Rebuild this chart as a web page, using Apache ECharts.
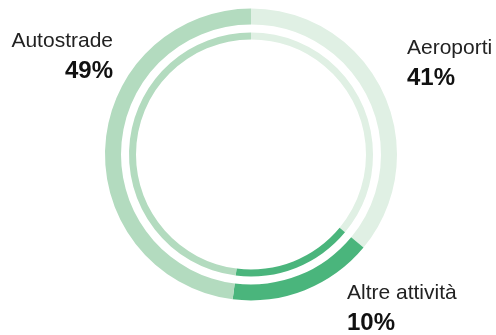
<!DOCTYPE html>
<html><head><meta charset="utf-8">
<script src="https://cdn.jsdelivr.net/npm/echarts@6/dist/echarts.min.js"></script>
<style>html,body{margin:0;padding:0;background:#fff}#c{width:496px;height:335px}</style>
</head><body><div id="c"></div>
<script>
// Categories in drawing order (clockwise from 12 o'clock)
const categories = ['Aeroporti', 'Altre attività', 'Autostrade'];
// Arc shares as drawn in the picture (percent of the ring)
const arcValues = [36, 16, 48];
// Printed percentage labels
const percentLabels = ['41%', '10%', '49%'];
const colors = ['#e0f0e4', '#4ab57c', '#b3dbbf'];

const chart = echarts.init(document.getElementById('c'), null, {renderer: 'canvas'});
const data = categories.map((c, i) => ({name: c, value: arcValues[i], itemStyle: {color: colors[i]}}));
const center = [251, 154.5];
const labelPos = {
  'Autostrade': {x: 113, y: 31, align: 'right'},
  'Aeroporti': {x: 407, y: 38, align: 'left'},
  'Altre attività': {x: 347, y: 283, align: 'left'}
};
const graphics = [];
categories.forEach((c, i) => {
  const p = labelPos[c];
  graphics.push({type: 'text', x: p.x, y: p.y, style: {text: c, font: '21px "Liberation Sans", Arial, sans-serif', fill: '#222', textAlign: p.align, textVerticalAlign: 'top'}});
  graphics.push({type: 'text', x: p.x, y: p.y + 28, style: {text: percentLabels[i], font: 'bold 24px "Liberation Sans", Arial, sans-serif', fill: '#111', textAlign: p.align, textVerticalAlign: 'top'}});
});
chart.setOption({
  animation: false,
  series: [
    {type: 'pie', radius: [130, 146], center: center, startAngle: 90, clockwise: true, label: {show: false}, labelLine: {show: false}, silent: true, data: data},
    {type: 'pie', radius: [115, 122], center: center, startAngle: 90, clockwise: true, label: {show: false}, labelLine: {show: false}, silent: true, data: data}
  ],
  graphic: graphics
});
</script></body></html>
